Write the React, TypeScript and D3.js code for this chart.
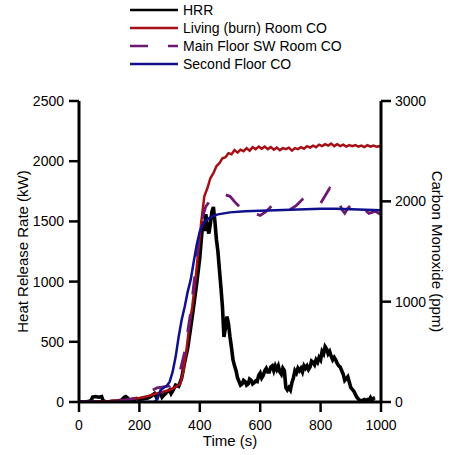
import React from "react";
import * as d3 from "d3";

// HRR (kW) vs time (s)
const hrrT = [0,10,20,30,40,45,55,65,75,80,90,100,110,120,130,140,150,155,160,170,180,190,200,210,220,230,240,250,255,260,270,275,280,290,300,305,310,320,330,340,350,360,370,380,390,400,405,410,415,420,425,430,435,440,445,450,455,460,465,470,475,480,485,490,495,500,505,510,515,520,525,530,535,540,545,550,555,560,565,570,575,580,585,590,595,600,605,610,615,620,625,630,635,640,645,650,655,660,665,670,675,680,685,690,695,700,705,710,715,720,725,730,735,740,745,750,755,760,765,770,775,780,785,790,795,800,805,810,815,820,825,830,835,840,845,850,855,860,865,870,875,880,890,900,910,920,930,940,945,950,955,960,965,970,975,980];
const hrrV = [0,0,0,5,10,40,45,40,45,10,0,0,5,5,10,15,40,45,35,10,15,30,20,25,30,35,50,70,45,60,75,40,55,80,100,70,90,140,130,200,330,450,620,800,990,1200,1350,1500,1420,1560,1450,1400,1480,1580,1620,1500,1350,1250,1100,950,790,540,620,710,650,540,450,350,300,260,200,170,140,150,180,170,140,150,190,180,150,160,175,170,220,240,200,220,260,280,250,250,290,300,260,300,270,300,250,230,280,260,120,100,120,100,160,200,260,240,280,260,280,250,300,280,300,270,290,340,330,310,350,330,370,350,420,400,460,440,400,420,380,350,370,350,320,300,290,260,230,180,210,120,90,40,10,15,20,10,20,15,35,10,30,35,30,20,25,0,0];

// Living (burn) Room CO (ppm)
const livT = [0,50,100,150,200,230,250,270,300,320,335,345,355,365,375,385,395,405,415,425,435,445,455,465,475,485,495,505,515,525,535,545,555,565,575,585,595,605,615,625,635,645,655,665,675,685,695,705,715,725,735,745,755,765,775,785,795,805,815,825,835,845,855,865,875,885,895,905,915,925,935,945,955,965,975,985,995,1000];
const livV = [0,5,10,20,40,60,80,95,120,150,180,300,500,750,950,1200,1500,1800,2050,2130,2230,2280,2350,2380,2430,2440,2480,2470,2510,2485,2515,2500,2530,2505,2540,2520,2545,2525,2545,2520,2540,2515,2535,2510,2530,2520,2535,2505,2530,2520,2540,2525,2550,2535,2555,2540,2565,2550,2570,2555,2575,2550,2570,2550,2565,2545,2560,2550,2560,2545,2555,2540,2560,2545,2555,2545,2550,2545];

// Main Floor SW Room CO (ppm)
const swT = [0,100,150,200,230,258,280,300,330,350,370,385,400,410,420,440,460,480,500,520,540,560,580,600,620,640,660,680,700,720,740,760,780,800,820,830,840,860,870,880,890,900,920,940,960,980,1000];
const swV = [0,5,15,50,100,140,150,160,250,500,900,1300,1700,1850,1950,2030,2060,2070,2050,1980,1920,1910,1880,1860,1900,1960,1980,1950,1920,1960,2020,2050,2020,1980,2080,2130,2100,2000,1920,1880,1930,1960,1900,1930,1880,1900,1870];

// Second Floor CO (ppm)
const secT = [0,100,200,250,260,270,290,300,310,320,330,340,350,360,370,380,390,400,410,420,430,440,460,480,500,550,600,650,700,750,800,850,900,950,1000];
const secV = [0,0,0,0,30,120,160,200,300,450,650,820,950,1100,1220,1400,1570,1700,1770,1810,1830,1850,1870,1880,1890,1900,1905,1910,1915,1920,1925,1925,1920,1915,1910];

const xTicks = [0,200,400,600,800,1000];
const yLeftTicks = [0,500,1000,1500,2000,2500];
const yRightTicks = [0,1000,2000,3000];

const legendLabels = ["HRR","Living (burn) Room CO","Main Floor SW Room CO","Second Floor CO"];
const colors = ["#000000","#A50F15","#6E1A72","#10108C"];

export default function App() {
  const W = 450, H = 455;
  const L = 79, R = 381, T = 101, B = 402;
  const x = d3.scaleLinear().domain([0, 1000]).range([L, R]);
  const yL = d3.scaleLinear().domain([0, 2500]).range([B, T]);
  const yR = d3.scaleLinear().domain([0, 3000]).range([B, T]);
  const font = "'Liberation Sans', Arial, sans-serif";

  const mk = (ts: number[], vs: number[], ys: d3.ScaleLinear<number, number>) =>
    d3.line<number>().x((_, i) => x(ts[i])).y((v) => ys(v))(vs) || "";

  const series = [
    { d: mk(hrrT, hrrV, yL), c: colors[0], w: 3.6, dash: undefined },
    { d: mk(livT, livV, yR), c: colors[1], w: 2.5, dash: undefined },
    { d: mk(swT, swV, yR), c: colors[2], w: 2.8, dash: "18 20" },
    { d: mk(secT, secV, yR), c: colors[3], w: 2.5, dash: undefined },
  ];

  return (
    <svg width={W} height={H} style={{ position: "absolute", left: 0, top: 0 }} fontFamily={font}>
      <rect width={W} height={H} fill="#fff" />
      {legendLabels.map((lab, i) => (
        <g key={lab}>
          <line x1={130} x2={178} y1={10 + i * 18} y2={10 + i * 18} stroke={colors[i]} strokeWidth={2.5}
            strokeDasharray={i === 2 ? "18 20" : undefined} />
          <text x={183} y={10 + i * 18} dy="0.35em" fontSize={14} fill="#000">{lab}</text>
        </g>
      ))}
      <clipPath id="plot"><rect x={L} y={T - 5} width={R - L} height={B - T + 5} /></clipPath>
      <g clipPath="url(#plot)">
        {series.map((s, i) => (
          <path key={i} d={s.d} fill="none" stroke={s.c} strokeWidth={s.w} strokeDasharray={s.dash} strokeLinejoin="miter" />
        ))}
      </g>
      <line x1={L} x2={L} y1={T} y2={B} stroke="#000" strokeWidth={3} />
      <line x1={R} x2={R} y1={T} y2={B} stroke="#000" strokeWidth={3} />
      <line x1={L} x2={R} y1={B} y2={B} stroke="#000" strokeWidth={3} />
      {yLeftTicks.map((t) => (
        <g key={"l" + t}>
          <line x1={L - 10} x2={L} y1={yL(t)} y2={yL(t)} stroke="#000" strokeWidth={2.5} />
          <text x={L - 15} y={yL(t)} dy="0.35em" textAnchor="end" fontSize={14}>{t}</text>
        </g>
      ))}
      {yRightTicks.map((t) => (
        <g key={"r" + t}>
          <line x1={R} x2={R + 10} y1={yR(t)} y2={yR(t)} stroke="#000" strokeWidth={2.5} />
          <text x={R + 14} y={yR(t)} dy="0.35em" textAnchor="start" fontSize={14}>{t}</text>
        </g>
      ))}
      {xTicks.map((t) => (
        <g key={"x" + t}>
          <line x1={x(t)} x2={x(t)} y1={B} y2={B + 10} stroke="#000" strokeWidth={2.5} />
          <text x={x(t)} y={425} dy="0.35em" textAnchor="middle" fontSize={14}>{t}</text>
        </g>
      ))}
      <text x={(L + R) / 2} y={441} dy="0.35em" textAnchor="middle" fontSize={15}>Time (s)</text>
      <text transform={`translate(23,${(T + B) / 2}) rotate(-90)`} dy="0.35em" textAnchor="middle" fontSize={15}>Heat Release Rate (kW)</text>
      <text transform={`translate(437,${(T + B) / 2}) rotate(90)`} dy="0.35em" textAnchor="middle" fontSize={15}>Carbon Monoxide (ppm)</text>
    </svg>
  );
}
